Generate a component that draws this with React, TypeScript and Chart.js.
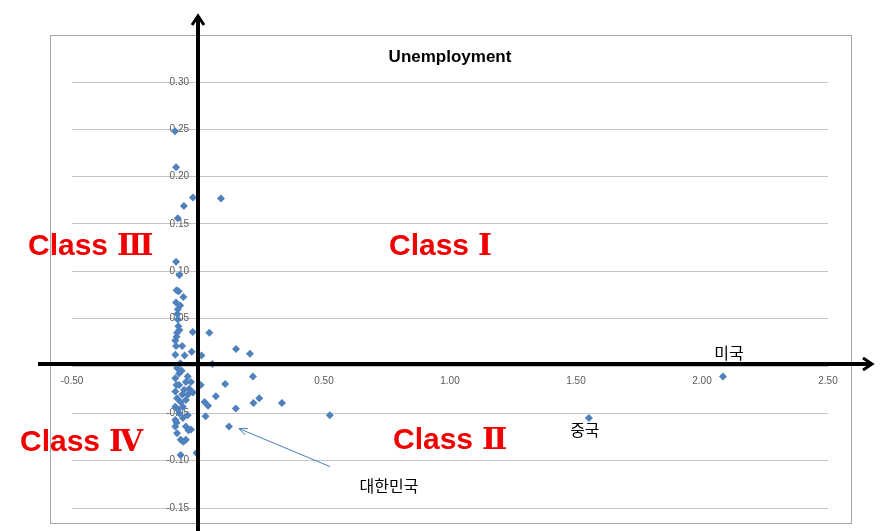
import { useEffect, useRef } from "react";
import { Chart, registerables } from "chart.js";

Chart.register(...registerables);

// ---- data ----
const xValues = [
  -0.091, -0.087, -0.02, 0.091, -0.056, -0.08, -0.087, -0.074, -0.085, -0.077,
  -0.058, -0.087, -0.071, -0.082, -0.08, -0.078, -0.074, -0.021, 0.045, -0.085,
  -0.09, -0.087, -0.063, -0.025, 0.151, 0.206, -0.09, -0.053, 0.014, 0.057,
  -0.083, -0.075, -0.09, -0.041, -0.048, -0.028, -0.075, -0.09, -0.055, -0.02,
  -0.083, -0.069, -0.048, -0.09, -0.075, -0.041, -0.09, -0.09, -0.048, -0.028,
  -0.069, -0.048, -0.069, -0.006, -0.085, -0.038, -0.058, 0.011, 0.108, 0.218,
  0.071, 0.243, 0.22, 0.333, 0.026, 0.04, 0.15, 0.03, 0.523, 0.123,
  2.083, 1.551, -0.065, -0.035, -0.062, -0.08, -0.06, -0.083, -0.04, -0.07,
  -0.08, -0.083, -0.085, -0.06,
];
const yValues = [
  0.248, 0.21, 0.178, 0.177, 0.169, 0.156, 0.11, 0.096, 0.08, 0.079,
  0.073, 0.067, 0.064, 0.055, 0.049, 0.042, 0.038, 0.036, 0.035, 0.031,
  0.027, 0.021, 0.021, 0.015, 0.018, 0.013, 0.012, 0.011, 0.011, 0.002,
  -0.002, -0.008, -0.013, -0.011, -0.017, -0.017, -0.02, -0.027, -0.025, -0.028,
  -0.034, -0.038, -0.036, -0.043, -0.05, -0.052, -0.057, -0.064, -0.064, -0.067,
  -0.078, -0.078, -0.094, -0.092, -0.06, -0.068, -0.08, -0.02, -0.019, -0.011,
  -0.032, -0.034, -0.039, -0.039, -0.038, -0.042, -0.045, -0.053, -0.052, -0.064,
  -0.011, -0.055, -0.005, -0.024, -0.03, -0.046, -0.055, -0.071, -0.03, 0.003,
  0.06, 0.035, -0.02, -0.043,
];
const xTickValues = [-0.5, 0.5, 1.0, 1.5, 2.0, 2.5];
const yTickValues = [0.3, 0.25, 0.2, 0.15, 0.1, 0.05, -0.05, -0.1, -0.15];
const chartTitle = "Unemployment";
const classLabels = ["Class Ⅰ", "Class Ⅱ", "Class Ⅲ", "Class Ⅳ"];
const calloutNames = ["미국", "중국", "대한민국"];
const calloutIndex = [70, 71, 69];

const drawClassLabel = (ctx: CanvasRenderingContext2D, text: string, x: number, y: number) => {
  const sp = text.indexOf(" ");
  const word = text.slice(0, sp);
  const num = text.slice(sp + 1);
  ctx.font = 'bold 30px "Liberation Sans"';
  ctx.fillText(word, x, y);
  const w = ctx.measureText(word).width;
  ctx.font = 'bold 30px "DejaVu Serif", "Liberation Serif", "Noto Sans CJK KR"';
  ctx.fillText(num, x + w + 9, y);
};

const overlay = {
  id: "overlay",
  beforeDraw(chart: any) {
    const ctx = chart.ctx;
    ctx.save();
    ctx.fillStyle = "#ffffff";
    ctx.fillRect(0, 0, chart.width, chart.height);
    ctx.strokeStyle = "#a6a6a6";
    ctx.lineWidth = 1;
    ctx.strokeRect(50.5, 35.5, 801, 488);
    ctx.restore();
  },
  beforeDatasetsDraw(chart: any) {
    const { ctx, scales } = chart;
    const xs = scales.x, ys = scales.y;
    const x0 = xs.getPixelForValue(0);
    const y0 = ys.getPixelForValue(0);
    ctx.save();
    ctx.font = '10px "Liberation Sans"';
    ctx.fillStyle = "#595959";
    ctx.textAlign = "right";
    ctx.textBaseline = "middle";
    yTickValues.forEach((v) => {
      ctx.fillText(v.toFixed(2), x0 - 9, ys.getPixelForValue(v));
    });
    ctx.textAlign = "center";
    xTickValues.forEach((v) => {
      ctx.fillText(v.toFixed(2), xs.getPixelForValue(v), y0 + 15);
    });
    // title
    ctx.font = 'bold 17px "Liberation Sans"';
    ctx.fillStyle = "#000";
    ctx.fillText(chartTitle, 450, 57);
    ctx.restore();
  },
  afterDatasetsDraw(chart: any) {
    const { ctx, scales } = chart;
    const xs = scales.x, ys = scales.y;
    const x0 = xs.getPixelForValue(0);
    const y0 = ys.getPixelForValue(0) - 2;
    const px = (i: number) => xs.getPixelForValue(xValues[i]);
    const py = (i: number) => ys.getPixelForValue(yValues[i]);
    ctx.save();
    // callout texts
    ctx.font = '16px "Noto Sans CJK KR"';
    ctx.fillStyle = "#000";
    ctx.textAlign = "center";
    ctx.textBaseline = "middle";
    ctx.fillText(calloutNames[0], px(calloutIndex[0]) + 6, py(calloutIndex[0]) - 23);
    ctx.fillText(calloutNames[1], px(calloutIndex[1]) - 4, py(calloutIndex[1]) + 12);
    ctx.fillText(calloutNames[2], px(calloutIndex[2]) + 160, py(calloutIndex[2]) + 59);
    // callout arrow for 대한민국
    const ax = px(calloutIndex[2]) + 10, ay = py(calloutIndex[2]) + 2;
    const bx = px(calloutIndex[2]) + 101, by = py(calloutIndex[2]) + 40;
    ctx.strokeStyle = "#4a7ebb";
    ctx.lineWidth = 1;
    ctx.beginPath();
    ctx.moveTo(bx, by);
    ctx.lineTo(ax, ay);
    const ang = Math.atan2(by - ay, bx - ax);
    const hl = 9;
    ctx.moveTo(ax + hl * Math.cos(ang - 0.4), ay + hl * Math.sin(ang - 0.4));
    ctx.lineTo(ax, ay);
    ctx.lineTo(ax + hl * Math.cos(ang + 0.4), ay + hl * Math.sin(ang + 0.4));
    ctx.stroke();
    // black axes arrows
    ctx.strokeStyle = "#000";
    ctx.lineWidth = 4;
    ctx.lineCap = "butt";
    ctx.beginPath();
    ctx.moveTo(x0, chart.height);
    ctx.lineTo(x0, 17);
    ctx.moveTo(38, y0);
    ctx.lineTo(870, y0);
    ctx.stroke();
    ctx.lineWidth = 3;
    ctx.lineJoin = "miter";
    ctx.beginPath();
    ctx.moveTo(x0 - 6, 25);
    ctx.lineTo(x0, 16);
    ctx.lineTo(x0 + 6, 25);
    ctx.moveTo(863, y0 - 6);
    ctx.lineTo(872, y0);
    ctx.lineTo(863, y0 + 6);
    ctx.stroke();
    // class labels
    ctx.fillStyle = "#f00000";
    ctx.textAlign = "left";
    ctx.textBaseline = "alphabetic";
    drawClassLabel(ctx, classLabels[0], 389, 255);
    drawClassLabel(ctx, classLabels[1], 393, 449);
    drawClassLabel(ctx, classLabels[2], 28, 255);
    drawClassLabel(ctx, classLabels[3], 20, 451);
    ctx.restore();
  },
};

export default function App() {
  const ref = useRef<HTMLCanvasElement>(null);
  useEffect(() => {
    if (!ref.current) return;
    const chart = new Chart(ref.current, {
      type: "scatter",
      data: {
        datasets: [
          {
            label: chartTitle,
            data: xValues.map((x, i) => ({ x, y: yValues[i] })),
            pointStyle: "rectRot",
            pointRadius: 4,
            backgroundColor: "#4f81bd",
            borderColor: "#4f81bd",
            borderWidth: 0,
          },
        ],
      },
      options: {
        responsive: false,
        animation: false,
        devicePixelRatio: 1,
        layout: { autoPadding: false, padding: { left: 72, right: 59, top: 82, bottom: 23 } },
        plugins: { legend: { display: false }, tooltip: { enabled: false }, title: { display: false } },
        scales: {
          x: {
            type: "linear",
            min: -0.5,
            max: 2.5,
            ticks: { display: false },
            grid: { display: false, drawTicks: false },
            border: { display: false },
          },
          y: {
            type: "linear",
            min: -0.15,
            max: 0.3,
            ticks: { display: false, stepSize: 0.05 },
            grid: { color: "#c4c4c4", lineWidth: 1, drawTicks: false },
            border: { display: false },
          },
        },
      },
      plugins: [overlay],
    } as any);
    return () => chart.destroy();
  }, []);
  return (
    <div style={{ position: "absolute", left: 0, top: 0, width: 887, height: 531 }}>
      <canvas ref={ref} width={887} height={531} style={{ display: "block" }} />
    </div>
  );
}
